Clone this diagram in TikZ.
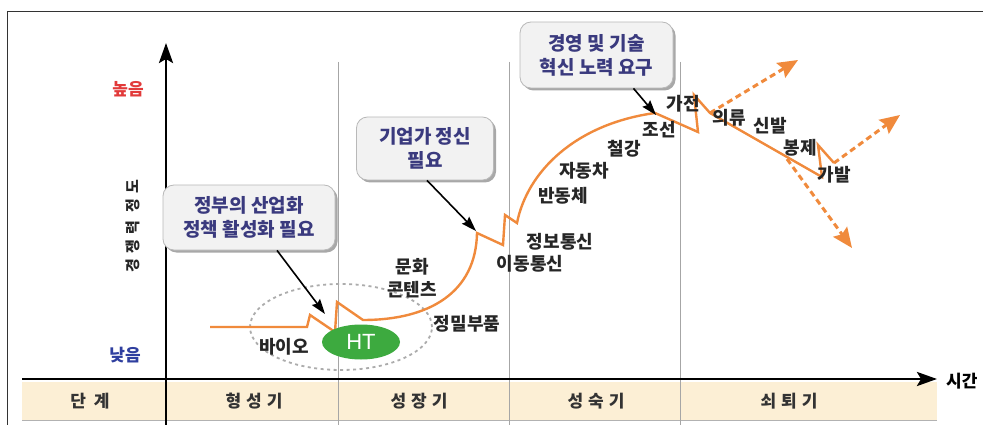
\documentclass[tikz,border=0pt]{standalone}
\usepackage{fontspec}
\setmainfont{Noto Sans CJK KR}
\newfontfamily\htfont{Liberation Sans}
\usetikzlibrary{arrows.meta,shadows,shapes.geometric}
\definecolor{orng}{HTML}{F08A3C}
\definecolor{navy}{HTML}{3A3A7E}
\definecolor{band}{HTML}{FCEFD5}
\definecolor{htgreen}{HTML}{3DAA3F}
\definecolor{hired}{HTML}{E23A3A}
\definecolor{lowblue}{HTML}{2F3F9F}
\begin{document}
\begin{tikzpicture}[x=1pt,y=-1pt,
  lbl/.style={font=\bfseries\fontsize{18}{20}\selectfont, text=black!85, inner sep=0pt},
  phase/.style={font=\bfseries\fontsize{17}{19}\selectfont, text=black!80, inner sep=0pt},
  callout/.style={rounded corners=11pt, draw=gray!55, line width=0.8pt, fill=gray!10,
     drop shadow={shadow xshift=2.5pt, shadow yshift=-2.5pt, fill=gray!75, opacity=0.9},
     align=center, font=\bfseries\fontsize{19}{24}\selectfont, text=navy, inner sep=0pt},
  axis/.style={line width=2.8pt, -{Stealth[length=20pt,width=14pt,inset=4pt]}},
  sep/.style={gray!70, line width=0.8pt},
  curve/.style={orng, line width=2.4pt, line join=miter},
  trend/.style={orng, line width=3pt, dash pattern=on 6pt off 4pt, -{Stealth[length=20pt,width=17pt,inset=3pt]}},
  callarrow/.style={black, line width=1.6pt, -{Stealth[length=15pt,width=10pt,inset=2pt]}}
]
\useasboundingbox (0,0) rectangle (983,425);
\fill[white] (0,0) rectangle (983,425);
% frame
\draw[black!80, line width=0.8pt] (7,425) -- (7,11) -- (983,11);
% phase band
\fill[band] (22,382) rectangle (937,420);
\draw[gray!60, line width=0.8pt] (22,420) -- (937,420);
% separators
\draw[sep] (338,62) -- (338,425);
\draw[sep] (509,62) -- (509,425);
\draw[sep] (680,62) -- (680,425);
% phase labels
\node[phase] (p0) at (90,401) {단\hspace{8pt}계};
\node[phase] (p1) at (254,401) {형\hspace{5pt}성\hspace{5pt}기};
\node[phase] (p2) at (419,401) {성\hspace{5pt}장\hspace{5pt}기};
\node[phase] (p3) at (596,401) {성\hspace{5pt}숙\hspace{5pt}기};
\node[phase] (p4) at (789,401) {쇠\hspace{5pt}퇴\hspace{5pt}기};
% axes
\coordinate (xs) at (22,379);
\coordinate (xe) at (937,379);
\coordinate (ys) at (166,425);
\coordinate (ye) at (166,43);
\draw[axis] (ys) -- (ye);
\draw[axis] (xs) -- (xe);
\node[font=\bfseries\fontsize{17}{19}\selectfont, anchor=west, inner sep=0pt] (time) at (946,381) {시간};
\node[font=\bfseries\fontsize{17}{19}\selectfont, text=hired, inner sep=0pt] (high) at (128,89) {높음};
\node[font=\bfseries\fontsize{17}{19}\selectfont, text=lowblue, inner sep=0pt] (low) at (125,355) {낮음};
\node[font=\bfseries\fontsize{15}{17}\selectfont, rotate=90, inner sep=0pt, text=black!85] (ylab) at (133,226)
  {경\hspace{5pt}쟁\hspace{5pt}력\hspace{9pt}정\hspace{5pt}도};
% dashed cluster ellipse
\draw[gray!65, line width=1.8pt, dash pattern=on 3pt off 3.5pt] (341,327) ellipse [x radius=91pt, y radius=43pt];
% orange life-cycle curve
\coordinate (c0) at (210,327);
\coordinate (c1) at (307,327);
\coordinate (c2) at (310,315);
\coordinate (c3) at (335,332);
\coordinate (c4) at (337,302);
\coordinate (c5) at (363,320);
\coordinate (c6) at (477,233);
\coordinate (c7) at (503,245);
\coordinate (c8) at (505,215);
\coordinate (c9) at (517,223);
\coordinate (c10) at (655,113);
\coordinate (c11) at (698,132);
\coordinate (c12) at (694,95);
\coordinate (c13) at (710,113);
\coordinate (c14) at (822,177);
\coordinate (c15) at (818,145);
\coordinate (c16) at (834,163);
\draw[curve] (c0) -- (c1) -- (c2) -- (c3) -- (c4) -- (c5)
  .. controls (430,320) and (476,292) .. (c6) -- (c7) -- (c8) -- (c9)
  .. controls (527,172) and (575,124) .. (c10) -- (c11) -- (c12) -- (c13) -- (c14) -- (c15) -- (c16);
% trend arrows
\coordinate (d1) at (798,60);
\coordinate (d2s) at (787,159);
\coordinate (d2) at (852,248);
\coordinate (d3) at (900,115);
\draw[trend] (c13) -- (d1);
\draw[trend] (d2s) -- (d2);
\draw[trend] (c16) -- (d3);
% HT
\node[ellipse, fill=htgreen, minimum width=78pt, minimum height=35pt, inner sep=0pt,
  text=white, font=\htfont\fontsize{22}{24}\selectfont] (ht) at (361,342) {HT};
% industry labels
\node[lbl] (bio) at (284,347) {바이오};
\node[lbl] (mun) at (412,267) {문화};
\node[lbl] (con) at (412,290) {콘텐츠};
\node[lbl] (jm) at (467,324) {정밀부품};
\node[lbl] (jb) at (560,242) {정보통신};
\node[lbl] (id) at (530,264) {이동통신};
\node[lbl] (bd) at (563,196) {반동체};
\node[lbl] (jd) at (584,171) {자동차};
\node[lbl] (cg) at (624,149) {철강};
\node[lbl] (js) at (659,130) {조선};
\node[lbl] (gj) at (683,104) {가전};
\node[lbl] (ur) at (729,118) {의류};
\node[lbl] (sb) at (770,126) {신발};
\node[lbl] (bj) at (800,148) {봉제};
\node[lbl] (gb) at (834,175) {가발};
% callouts
\node[callout, minimum width=172pt, minimum height=65pt] (b1) at (249,217.5) {정부의 산업화\\정책 활성화 필요};
\node[callout, minimum width=137pt, minimum height=63pt] (b2) at (425,148.5) {기업가 정신\\필요};
\node[callout, minimum width=153pt, minimum height=66pt] (b3) at (596.5,55) {경영 및 기술\\혁신 노력 요구};
\coordinate (t1) at (325,314);
\coordinate (t2) at (476,231);
\coordinate (t3) at (656,115);
\draw[callarrow] ([xshift=28pt]b1.south) -- (t1);
\draw[callarrow] ([xshift=2pt]b2.south) -- (t2);
\draw[callarrow] ([xshift=37pt]b3.south) -- (t3);
\end{tikzpicture}
\end{document}
